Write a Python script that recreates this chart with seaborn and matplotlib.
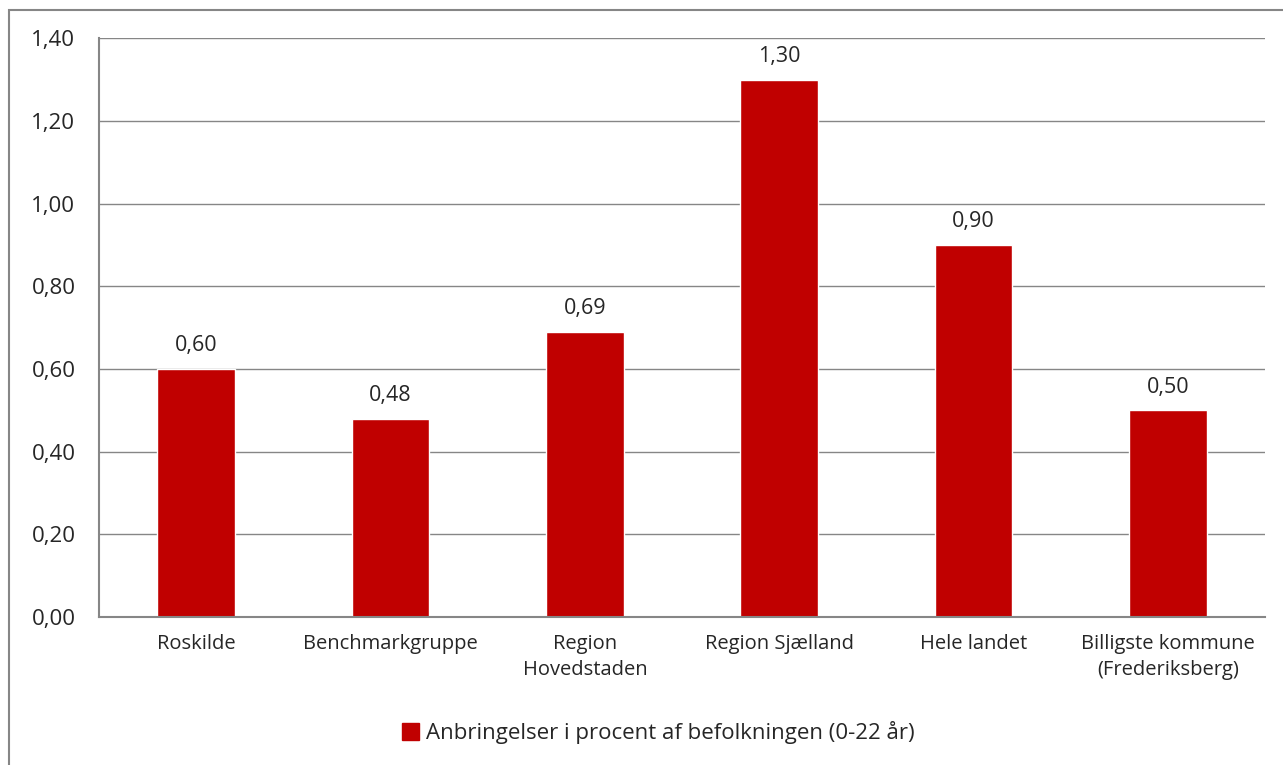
import seaborn as sns
import matplotlib.pyplot as plt
import matplotlib.patches as mpatches
import matplotlib.ticker as mticker

categories = ["Roskilde", "Benchmarkgruppe", "Region\nHovedstaden", "Region Sjælland",
              "Hele landet", "Billigste kommune\n(Frederiksberg)"]
values = [0.60, 0.48, 0.69, 1.30, 0.90, 0.50]
yticks = [0.0, 0.2, 0.4, 0.6, 0.8, 1.0, 1.2, 1.4]
series_name = "Anbringelser i procent af befolkningen (0-22 år)"

sns.set_style("white")
plt.rcParams['font.family'] = ['Open Sans', 'DejaVu Sans']

bar_color = "#C00000"
grid_color = "#868686"

fig = plt.figure(figsize=(12.83, 7.65), dpi=100)
ax = fig.add_axes([0.0772, 0.1935, 0.9088, 0.7565])

sns.barplot(x=list(range(len(categories))), y=values, color=bar_color, width=0.4,
            saturation=1, ax=ax)

ax.set_xlim(-0.5, len(categories) - 0.5)
ax.set_ylim(0, 1.4)
ax.set_yticks(yticks)
ax.yaxis.set_major_formatter(mticker.FuncFormatter(lambda v, p: f"{v:.2f}".replace(".", ",")))
ax.set_xticks(range(len(categories)))
ax.set_xticklabels(categories, fontsize=14.5, linespacing=1.45)
ax.set_xticks([i - 0.5 for i in range(len(categories) + 1)], minor=True)
ax.tick_params(axis='x', which='major', length=0, pad=12)
ax.tick_params(axis='x', which='minor', length=7, width=1.5, color=grid_color)
ax.tick_params(axis='y', length=7, width=1.5, color=grid_color, labelsize=16, pad=10)

ax.grid(True, axis='y', color=grid_color, linewidth=1)
ax.set_axisbelow(True)
for s in ["top", "right"]:
    ax.spines[s].set_visible(False)
for s in ["left", "bottom"]:
    ax.spines[s].set_color(grid_color)
    ax.spines[s].set_linewidth(1.5)
ax.set_xlabel("")
ax.set_ylabel("")

for i, v in enumerate(values):
    ax.annotate(f"{v:.2f}".replace(".", ","), (i, v), xytext=(0, 9),
                textcoords='offset points', ha='center', va='bottom', fontsize=15.5)

# chart area border
fig.patches.append(mpatches.Rectangle((9 / 1283, -0.1), 1.2, 1 - 10 / 765 + 0.1,
                                      transform=fig.transFigure, fill=False,
                                      edgecolor=grid_color, linewidth=1.5, zorder=-1))

handle = mpatches.Patch(color=bar_color, label=series_name)
fig.legend(handles=[handle], loc="center", bbox_to_anchor=(0.513, 0.042), frameon=False,
           fontsize=16, handlelength=0.75, handleheight=0.75, handletextpad=0.3)

fig.savefig("out.png", dpi=100)
